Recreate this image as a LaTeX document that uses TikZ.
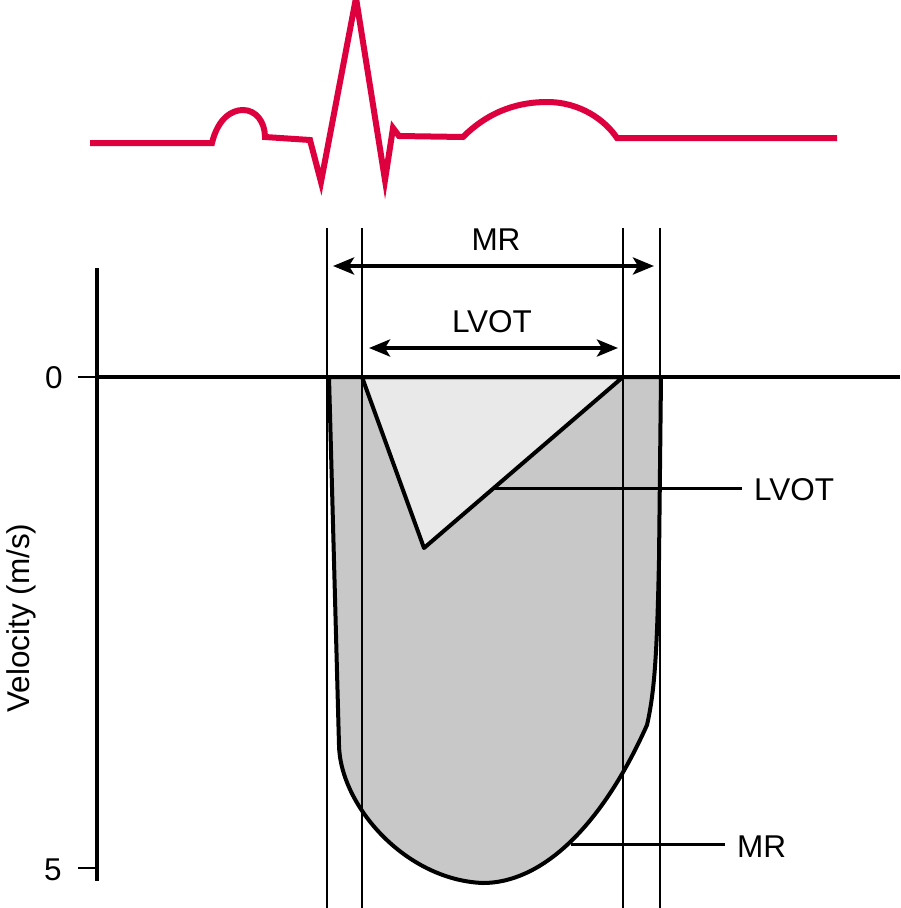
\documentclass[tikz,border=0pt]{standalone}
\usepackage{fontspec}
\setmainfont{Liberation Sans}
\usepackage{xcolor}
\usetikzlibrary{arrows.meta,positioning}
\definecolor{ecgred}{RGB}{222,0,62}
\definecolor{mrgray}{RGB}{200,200,200}
\definecolor{lvotgray}{RGB}{233,233,233}

\begin{document}
\begin{tikzpicture}[x=1pt, y=-1pt,
  lbl/.style={font=\fontsize{31.5}{36}\selectfont, inner sep=2pt},
  guide/.style={line width=2pt},
  arrow/.style={{Stealth[length=21pt,width=17pt,inset=5pt]}-{Stealth[length=21pt,width=17pt,inset=5pt]}, line width=4pt},
  leader/.style={line width=3pt},
  outline/.style={line width=4pt, line join=round},
  ecg/.style={ecgred, line width=6pt}
]
  \useasboundingbox (0,0) rectangle (900,908);

  % ECG trace
  \draw[ecg] (90,143) -- (212,143) .. controls (218,118) and (232,110) .. (243,110)
    .. controls (256,110) and (265,122) .. (265,137) -- (310,140) -- (321,182) -- (356,-2)
    -- (385,180) -- (393,128) -- (399,136) -- (463,137)
    .. controls (490,110) and (520,102) .. (547,102) .. controls (580,102) and (605,120) .. (617,138)
    -- (837,138);

  % Doppler envelopes
  \fill[mrgray] (329,377) -- (661,377) -- (659,560) .. controls (657,650) and (655,690) .. (647,725)
    .. controls (600,830) and (540,883) .. (483,883) .. controls (405,880) and (340,805) .. (339,745) -- cycle;
  \filldraw[lvotgray, draw=black, outline] (362,377) -- (424,548) -- (623,377) -- cycle;

  \foreach \x in {327,362,623,660}
    \draw[guide] (\x,228) -- (\x,908);

  \draw[outline] (661,377) -- (659,560) .. controls (657,650) and (655,690) .. (647,725)
    .. controls (600,830) and (540,883) .. (483,883) .. controls (405,880) and (340,805) .. (339,745)
    -- (329,377) -- cycle;

  % axes
  \draw[line width=3.5pt] (97,377) -- (900,377);
  \draw[line width=4.5pt] (97,268) -- (97,881);
  \draw[line width=2pt] (78,377) -- (97,377);
  \draw[line width=2pt] (78,868) -- (97,868);
  \node[lbl] (zero) at (54,378) {0};
  \node[lbl] (five) at (53,870) {5};
  \node[lbl, rotate=90] (vel) at (21,618) {Velocity (m/s)};

  % timing intervals
  \node[lbl] (mrtop) at (496,240) {MR};
  \node[lbl] (lvottop) at (492,322) {LVOT};
  \coordinate (mrl) at (333,266);
  \coordinate (mrr) at (654,266);
  \coordinate (lvl) at (369,348);
  \coordinate (lvr) at (618,348);
  \draw[arrow] (mrl) -- (mrr);
  \draw[arrow] (lvl) -- (lvr);

  % callouts
  \coordinate (lvotpt) at (494,488);
  \coordinate (mrpt) at (571,844);
  \node[lbl, anchor=west] (lvotlab) at (752,490) {LVOT};
  \node[lbl, anchor=west] (mrlab) at (735,847) {MR};
  \draw[leader] (lvotpt) -- ++(248,0);
  \draw[leader] (mrpt) -- ++(154,0);
\end{tikzpicture}
\end{document}
